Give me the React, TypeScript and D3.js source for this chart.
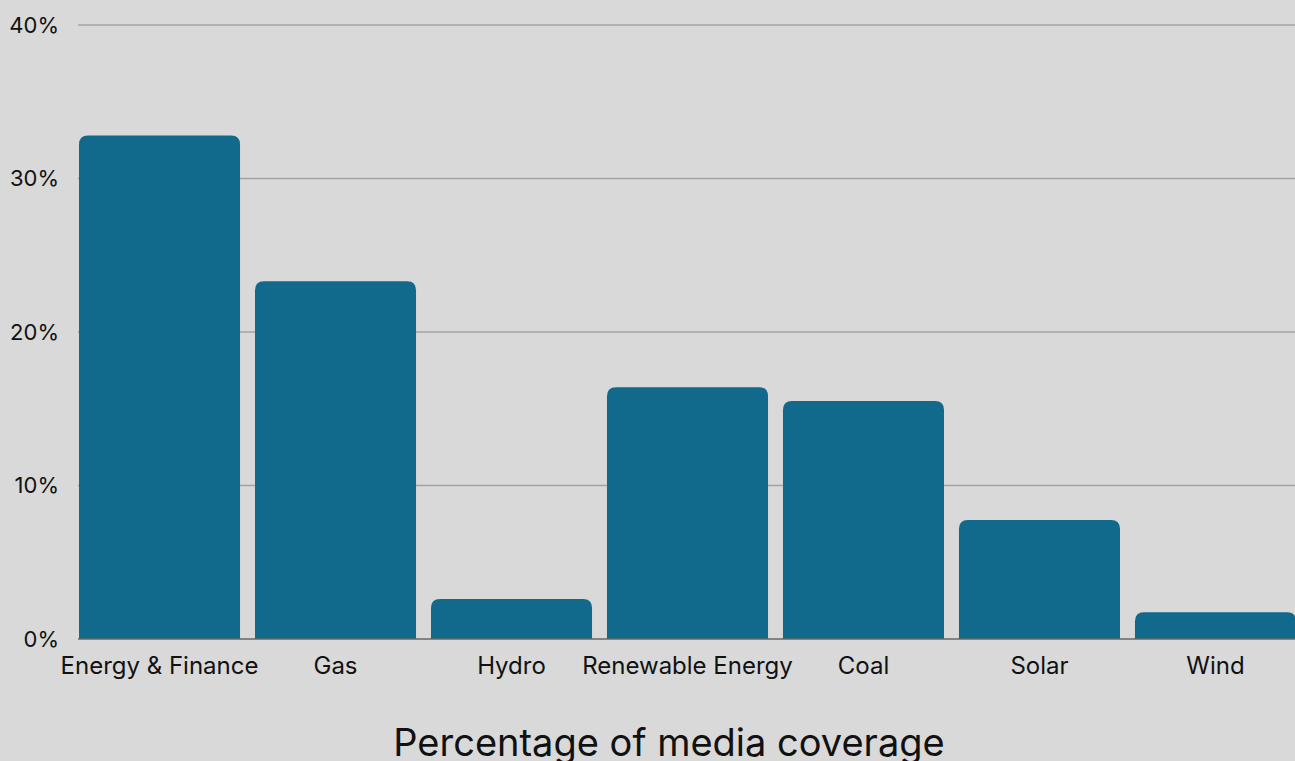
import React from "react";
import * as d3 from "d3";

const categories = ["Energy & Finance", "Gas", "Hydro", "Renewable Energy", "Coal", "Solar", "Wind"];
const values = [32.8, 23.3, 2.6, 16.4, 15.5, 7.75, 1.75];
const yTicks = [0, 10, 20, 30, 40];
const axisTitle = "Percentage of media coverage";

const W = 1295;
const H = 761;

function topRoundedRect(x: number, y: number, w: number, h: number, r: number) {
  const rr = Math.min(r, h, w / 2);
  return `M${x},${y + h}V${y + rr}Q${x},${y} ${x + rr},${y}H${x + w - rr}Q${x + w},${y} ${x + w},${y + rr}V${y + h}Z`;
}

export default function App() {
  const x = d3.scaleBand<string>().domain(categories).range([79, 1296]).paddingInner(0.085).paddingOuter(0);
  const y = d3.scaleLinear().domain([0, 40]).range([639, 25]);
  const font = "Inter, 'Noto Sans', sans-serif";
  return (
    <svg width={W} height={H} style={{ position: "absolute", left: 0, top: 0, display: "block" }}>
      <rect x={0} y={0} width={W} height={H} fill="#d9d9d9" />
      {yTicks.map((t) => (
        <g key={t}>
          {t !== 0 && <line x1={78} x2={W} y1={y(t)} y2={y(t)} stroke="#a3a3a3" strokeWidth={1.5} />}
          <text x={59} y={y(t)} dy="0.36em" textAnchor="end" fontFamily={font} fontSize={22} fill="#111">
            {t}%
          </text>
        </g>
      ))}
      {categories.map((c, i) => (
        <path
          key={c}
          d={topRoundedRect(x(c)!, y(values[i]), x.bandwidth(), y(0) - y(values[i]), 9)}
          fill="#11698b"
        />
      ))}
      <line x1={78} x2={W} y1={y(0)} y2={y(0)} stroke="#666" strokeWidth={1.5} />
      {categories.map((c) => (
        <text key={c} x={x(c)! + x.bandwidth() / 2} y={674} textAnchor="middle" fontFamily={font} fontSize={24} fill="#111">
          {c}
        </text>
      ))}
      <text x={669} y={756} textAnchor="middle" fontFamily={font} fontSize={38} fill="#111">
        {axisTitle}
      </text>
    </svg>
  );
}
